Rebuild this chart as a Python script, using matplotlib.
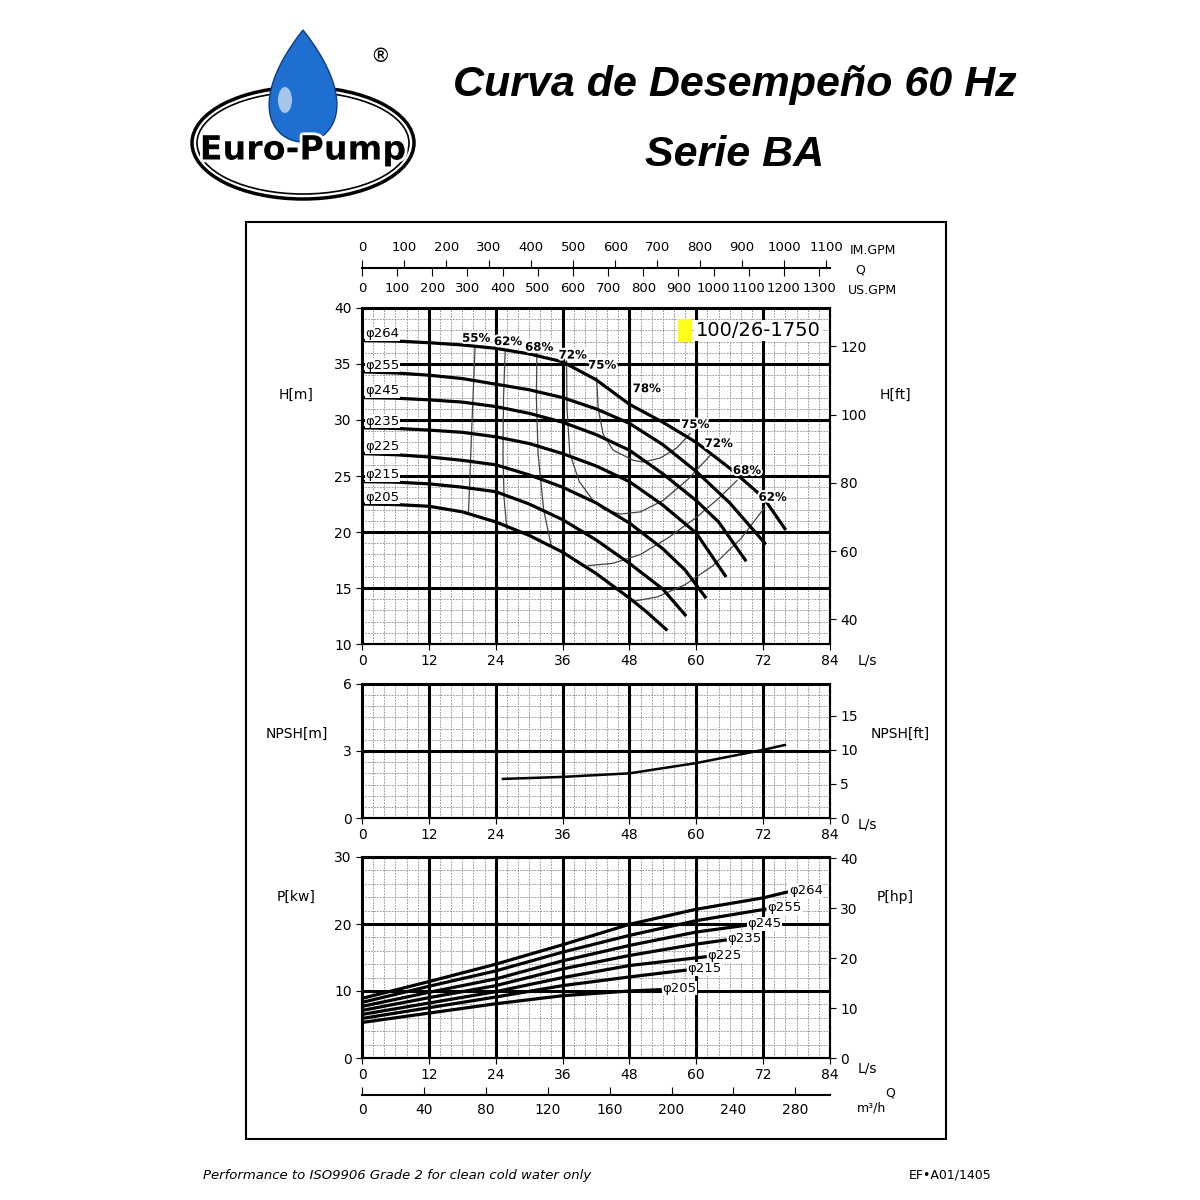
import matplotlib.pyplot as plt
import matplotlib.patheffects as pe
from matplotlib.patches import Ellipse, Polygon, Rectangle
import numpy as np

# ---- data ----
diam = ["264", "255", "245", "235", "225", "215", "205"]
q_h = [
    [0, 6, 12, 18, 24, 30, 36, 42, 48, 54, 60, 66, 72, 75.9],
    [0, 6, 12, 18, 24, 30, 36, 42, 48, 54, 60, 66, 72.3],
    [0, 6, 12, 18, 24, 30, 36, 42, 48, 54, 60, 64, 68.8],
    [0, 6, 12, 18, 24, 30, 36, 42, 48, 54, 60, 65.2],
    [0, 6, 12, 18, 24, 30, 36, 42, 48, 54, 58, 61.6],
    [0, 6, 12, 18, 24, 30, 36, 42, 48, 54, 58.0],
    [0, 6, 12, 18, 24, 30, 36, 42, 48, 51, 54.6],
]
head = [
    [37.1, 37.05, 36.9, 36.7, 36.4, 35.9, 35.2, 33.6, 31.4, 29.8, 28.0, 25.7, 23.1, 20.3],
    [34.3, 34.2, 34.0, 33.7, 33.2, 32.7, 32.0, 31.0, 29.7, 27.8, 25.4, 22.6, 19.0],
    [32.0, 31.95, 31.8, 31.6, 31.2, 30.6, 29.8, 28.7, 27.3, 25.2, 22.8, 20.9, 17.5],
    [29.3, 29.25, 29.1, 28.9, 28.5, 27.9, 27.0, 25.9, 24.5, 22.4, 19.9, 16.1],
    [27.0, 26.9, 26.7, 26.4, 26.0, 25.1, 24.0, 22.6, 20.8, 18.5, 16.6, 14.2],
    [24.5, 24.45, 24.3, 24.0, 23.6, 22.5, 21.1, 19.3, 17.2, 14.9, 12.6],
    [22.5, 22.45, 22.3, 21.8, 20.9, 19.7, 18.2, 16.3, 14.1, 12.9, 11.3],
]
eff_lines = [  # (q, h) polylines of iso-efficiency
    ([20.3, 20.0, 19.6, 19.3, 19.1], [36.6, 33.0, 28.0, 24.0, 21.6]),
    ([25.7, 25.4, 25.3, 25.5, 26.0], [36.2, 32.0, 27.0, 23.0, 20.3]),
    ([31.4, 31.3, 31.6, 32.6, 34.0], [36.2, 32.0, 27.0, 22.0, 18.7]),
    ([36.7, 36.8, 37.3, 39.0, 41.5, 43.5, 46.3, 50.0, 54.0, 58.5, 62.8],
     [35.75, 31.0, 27.0, 24.5, 22.8, 22.0, 21.6, 21.8, 22.8, 24.7, 27.0]),
    ([42.1, 42.4, 43.3, 45.1, 48.7, 50.5, 53.5, 56.5, 58.9],
     [33.8, 31.0, 28.7, 27.3, 26.4, 26.25, 26.6, 27.5, 28.8]),
    ([40.6, 45.0, 50.0, 55.0, 60.0, 64.0, 67.3],
     [17.0, 17.2, 18.0, 19.5, 21.3, 23.0, 24.6]),
    ([48.5, 53.0, 58.0, 63.0, 68.0, 72.3],
     [13.8, 14.2, 15.3, 17.0, 19.4, 22.2]),
]
eff_labels = ["55%", "62%", "68%", "72%", "75%", "78%", "75%", "72%", "68%", "62%"]
eff_lab_q = [20.5, 26.2, 31.8, 37.8, 43.1, 51.1, 59.8, 64.0, 69.1, 73.7]
eff_lab_h = [37.3, 37.0, 36.5, 35.8, 34.9, 32.8, 29.6, 27.9, 25.5, 23.1]

npsh_q = [25.3, 36, 48, 60, 72, 75.9]
npsh_m = [1.75, 1.84, 2.0, 2.46, 3.05, 3.27]

q_p = [
    [0, 12, 24, 36, 48, 60, 72, 76.2],
    [0, 12, 24, 36, 48, 60, 72.3],
    [0, 12, 24, 36, 48, 60, 68.8],
    [0, 12, 24, 36, 48, 60, 65.2],
    [0, 12, 24, 36, 48, 61.6],
    [0, 12, 24, 36, 48, 58.0],
    [0, 12, 24, 36, 48, 53.5],
]
power = [
    [8.9, 11.4, 14.0, 16.9, 19.95, 22.2, 23.9, 24.75],
    [8.3, 10.7, 13.0, 15.8, 18.3, 20.5, 22.2],
    [7.7, 9.8, 11.8, 14.5, 16.8, 18.8, 19.8],
    [7.1, 9.0, 10.8, 13.3, 15.3, 17.0, 17.6],
    [6.5, 8.2, 9.9, 12.0, 13.8, 15.1],
    [5.9, 7.5, 9.1, 10.8, 12.1, 13.1],
    [5.3, 6.7, 8.1, 9.3, 10.0, 10.2],
]

imgpm_ticks = [0, 100, 200, 300, 400, 500, 600, 700, 800, 900, 1000, 1100]
usgpm_ticks = [0, 100, 200, 300, 400, 500, 600, 700, 800, 900, 1000, 1100, 1200, 1300]
m3h_ticks = [0, 40, 80, 120, 160, 200, 240, 280]
ls_ticks = [0, 12, 24, 36, 48, 60, 72, 84]

W = 1200.0
fig = plt.figure(figsize=(12, 12), dpi=100)
bg = fig.add_axes([0, 0, 1, 1])
bg.set_xlim(0, W)
bg.set_ylim(W, 0)
bg.axis("off")

# frame
bg.add_patch(Rectangle((246, 222), 700, 917, fill=False, lw=1.5, ec="black"))
# logo
bg.add_patch(Ellipse((303, 143), 222, 112, fill=False, lw=2.5, ec="black"))
bg.add_patch(Ellipse((303, 143), 212, 102, fill=False, lw=1.2, ec="black"))
t = np.linspace(0, 2 * np.pi, 200)
drop = np.column_stack([303 + 44 * np.sin(t) * np.sin(t / 2),
                        30 + 112 * (1 - np.cos(t)) / 2])
bg.add_patch(Polygon(drop, closed=True, fc="#1f6fd1", ec="#0b3c8a", lw=1, zorder=3))
bg.add_patch(Ellipse((285, 100), 14, 26, fc="white", alpha=0.6, zorder=4))
bg.text(303, 150, "Euro-Pump", fontsize=24, fontweight="bold", ha="center", va="center",
        color="black", zorder=5,
        path_effects=[pe.withStroke(linewidth=4, foreground="white")])
bg.text(380, 57, "®", fontsize=14, ha="center", va="center")

bg.text(735, 85, "Curva de Desempeño 60 Hz", fontsize=31, fontweight="bold",
        style="italic", ha="center", va="center", family="Liberation Sans")
bg.text(735, 155, "Serie BA", fontsize=31, fontweight="bold",
        style="italic", ha="center", va="center", family="Liberation Sans")
bg.text(203, 1175, "Performance to ISO9906 Grade 2 for clean cold water only",
        fontsize=9.5, style="italic", ha="left", va="center")
bg.text(992, 1175, "EF•A01/1405", fontsize=9, ha="right", va="center")

L, Wd = 362 / W, (830 - 362) / W


def frac(top, bot):
    return [L, 1 - bot / W, Wd, (bot - top) / W]


def style_grid(ax, ymin, ymax, ymaj, ymin_step):
    ax.set_xlim(0, 84)
    ax.set_ylim(ymin, ymax)
    for x in np.arange(0, 84.1, 2):
        if x % 12 == 0:
            ax.axvline(x, color="black", lw=2.2, zorder=1)
        else:
            ax.axvline(x, color="#888888", lw=0.6, ls=(0, (2, 1.5)), zorder=0)
    for y in np.arange(ymin, ymax + 1e-6, ymin_step):
        if abs((y - ymin) % ymaj) < 1e-6 or abs((y - ymin) % ymaj - ymaj) < 1e-6:
            ax.axhline(y, color="black", lw=2.2, zorder=1)
        else:
            ax.axhline(y, color="#888888", lw=0.6, ls=(0, (2, 1.5)), zorder=0)
    ax.set_xticks(ls_ticks)
    ax.set_yticks(np.arange(ymin, ymax + 1e-6, ymaj))
    ax.tick_params(labelsize=10, length=4)
    for s in ax.spines.values():
        s.set_linewidth(1.5)
    ax.text(1.06, -0.05, "L/s", transform=ax.transAxes, fontsize=10, va="center")


lab_box = dict(fc="white", ec="none", pad=0.3)
halo = [pe.withStroke(linewidth=3, foreground="white")]

# head chart
axh = fig.add_axes(frac(308, 644))
style_grid(axh, 10, 40, 5, 1)
for d, q, h in zip(diam, q_h, head):
    axh.plot(q, h, color="black", lw=2.3, zorder=3)
    axh.text(0.6, h[0] + 0.6, "φ" + d, fontsize=9.5, ha="left", va="center", bbox=lab_box, zorder=4)
for q, h in eff_lines:
    axh.plot(q, h, color="#444444", lw=0.9, zorder=2)
for s, q, h in zip(eff_labels, eff_lab_q, eff_lab_h):
    axh.text(q, h, s, fontsize=8.5, fontweight="bold", ha="center", va="center",
             path_effects=halo, zorder=4)
axh.add_patch(Rectangle((56.8, 37.0), 2.5, 2.0, fc="#ffff1a", ec="none", zorder=5))
axh.text(60.0, 38.0, "100/26-1750", fontsize=14, ha="left", va="center",
         bbox=dict(fc="white", ec="none", pad=1), zorder=4)
axh.text(-0.14, 0.73, "H[m]", transform=axh.transAxes, fontsize=10, ha="center")
axh2 = axh.twinx()
axh2.set_ylim(10 / 0.3048, 40 / 0.3048)
axh2.set_yticks([40, 60, 80, 100, 120])
axh2.tick_params(labelsize=10, length=4)
axh.text(1.14, 0.73, "H[ft]", transform=axh.transAxes, fontsize=10, ha="center")

# top flow scales
axq = fig.add_axes([L, 1 - 268 / W, Wd, 0.0001])
axq2 = axq.twiny()
for a in (axq, axq2):
    a.set_xlim(0, 84)
    a.set_yticks([])
    for s in a.spines.values():
        s.set_visible(False)
axq.spines["top"].set_visible(True)
axq.spines["top"].set_linewidth(1.5)
axq.xaxis.set_ticks_position("top")
axq.set_xticks([v / 13.198 for v in imgpm_ticks])
axq.set_xticklabels([str(v) for v in imgpm_ticks], fontsize=9.5)
axq.tick_params(axis="x", length=6, pad=4, direction="out")
axq2.xaxis.set_ticks_position("bottom")
axq2.set_xticks([v / 15.85 for v in usgpm_ticks])
axq2.set_xticklabels([str(v) for v in usgpm_ticks], fontsize=9.5)
axq2.tick_params(axis="x", length=6, pad=4, direction="out")
bg.text(850, 251, "IM.GPM", fontsize=9, va="center")
bg.text(855, 270, "Q", fontsize=9, va="center")
bg.text(848, 290, "US.GPM", fontsize=9, va="center")

# NPSH chart
axn = fig.add_axes(frac(684, 818))
style_grid(axn, 0, 6, 3, 0.5)
axn.plot(npsh_q, npsh_m, color="black", lw=1.8, zorder=3)
axn2 = axn.twinx()
axn2.set_ylim(0, 6 / 0.3048)
axn2.set_yticks([0, 5, 10, 15])
axn2.tick_params(labelsize=10, length=4)
axn.text(-0.14, 0.6, "NPSH[m]", transform=axn.transAxes, fontsize=10, ha="center")
axn.text(1.15, 0.6, "NPSH[ft]", transform=axn.transAxes, fontsize=10, ha="center")

# power chart
axp = fig.add_axes(frac(857, 1058))
style_grid(axp, 0, 30, 10, 2)
for d, q, p in zip(diam, q_p, power):
    axp.plot(q, p, color="black", lw=2.3, zorder=3)
    axp.text(q[-1] + 0.4, p[-1] + 0.2, "φ" + d, fontsize=9.5, ha="left", va="center",
             bbox=lab_box, zorder=4)
axp2 = axp.twinx()
axp2.set_ylim(0, 30 / 0.7457)
axp2.set_yticks([0, 10, 20, 30, 40])
axp2.tick_params(labelsize=10, length=4)
axp.text(-0.14, 0.78, "P[kw]", transform=axp.transAxes, fontsize=10, ha="center")
axp.text(1.14, 0.78, "P[hp]", transform=axp.transAxes, fontsize=10, ha="center")

# bottom m3/h scale
axm = fig.add_axes([L, 1 - 1095 / W, Wd, 0.0001])
axm.set_xlim(0, 84)
for s in ["left", "right", "top"]:
    axm.spines[s].set_visible(False)
axm.spines["bottom"].set_linewidth(1.5)
axm.set_yticks([])
axm.set_xticks([v / 3.6 for v in m3h_ticks])
axm.set_xticklabels([str(v) for v in m3h_ticks], fontsize=10)
axm.tick_params(axis="x", length=6, direction="in", pad=6)
bg.text(885, 1093, "Q", fontsize=9, va="center")
bg.text(857, 1108, "m³/h", fontsize=9, va="center")

fig.savefig("out.png", dpi=100)
